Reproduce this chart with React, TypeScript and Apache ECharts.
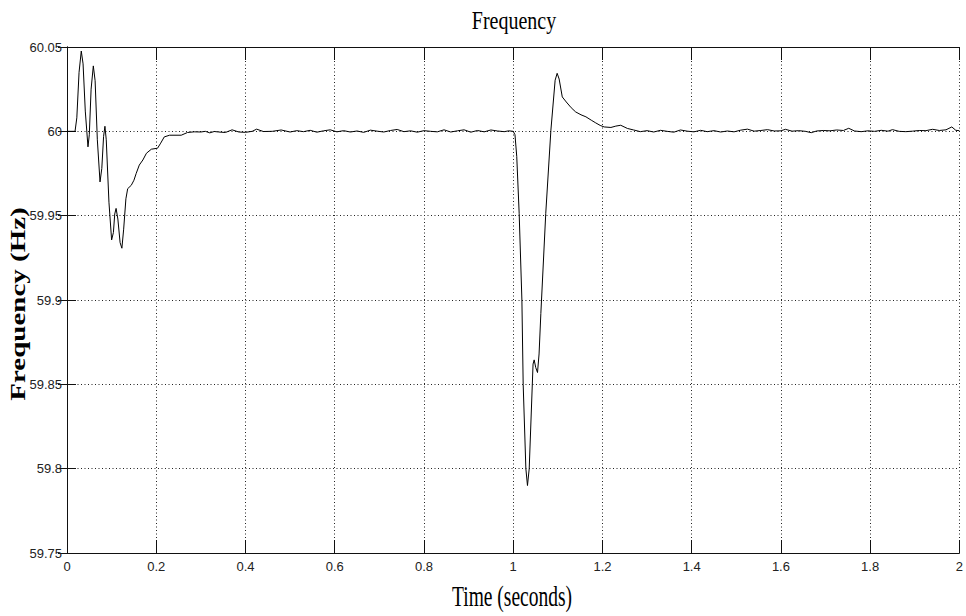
import React, { useEffect, useRef } from "react";
import * as echarts from "echarts";

// Time axis ticks (seconds) and frequency ticks (Hz)
const xTicks = [0, 0.2, 0.4, 0.6, 0.8, 1, 1.2, 1.4, 1.6, 1.8, 2];
const yTicks = [59.75, 59.8, 59.85, 59.9, 59.95, 60, 60.05];

// [time (s), frequency (Hz)]
const startTransient: [number, number][] = [
  [0, 60.0], [0.018, 60.0], [0.022, 60.008], [0.027, 60.035], [0.032, 60.0476],
  [0.036, 60.04], [0.041, 60.012], [0.047, 59.9908], [0.05, 59.998], [0.054, 60.025],
  [0.059, 60.0388], [0.063, 60.03], [0.068, 59.995], [0.074, 59.97], [0.078, 59.978],
  [0.082, 59.997], [0.085, 60.003], [0.088, 59.995], [0.094, 59.958], [0.1, 59.9356],
  [0.104, 59.94], [0.107, 59.951], [0.11, 59.9543], [0.114, 59.948], [0.119, 59.934],
  [0.123, 59.9307], [0.127, 59.942], [0.132, 59.96], [0.136, 59.966], [0.144, 59.968],
  [0.15, 59.971], [0.155, 59.975], [0.162, 59.98], [0.17, 59.983], [0.178, 59.987],
  [0.189, 59.9894], [0.203, 59.99], [0.21, 59.993], [0.218, 59.9967], [0.23, 59.9977],
  [0.256, 59.9977], [0.27, 59.9993], [0.285, 59.9997],
];

const plateauOne: [number, number][] = [
  [0.3, 59.9996], [0.31, 60.0], [0.32, 59.9991], [0.33, 59.9999], [0.34, 59.9996],
  [0.355, 59.9993], [0.37, 60.0009], [0.385, 59.9996], [0.4, 59.9994], [0.415, 60.0],
  [0.425, 60.0013], [0.44, 59.9999], [0.46, 60.0], [0.48, 60.0008], [0.5, 59.9996],
  [0.515, 60.0004], [0.53, 59.9998], [0.545, 60.0006], [0.56, 59.9995], [0.575, 60.0003],
  [0.59, 60.0009], [0.605, 59.9997], [0.62, 60.0004], [0.635, 59.9996], [0.65, 60.0002],
  [0.665, 59.9994], [0.68, 60.0007], [0.695, 60.0001], [0.71, 59.9996], [0.725, 60.0005],
  [0.74, 60.0011], [0.755, 59.9998], [0.77, 60.0003], [0.785, 59.9995], [0.8, 60.0004],
  [0.815, 60.0], [0.83, 59.9997], [0.845, 60.0009], [0.86, 59.9996], [0.875, 60.0003],
  [0.89, 60.0009], [0.905, 59.9995], [0.92, 60.0005], [0.935, 59.9997], [0.95, 60.0008],
  [0.965, 60.0002], [0.98, 59.9998], [0.99, 60.0003],
];

const faultDip: [number, number][] = [
  [1.0, 60.0], [1.004, 59.998], [1.008, 59.985], [1.0134, 59.9514], [1.0195, 59.9],
  [1.0224, 59.85], [1.0284, 59.8], [1.032, 59.79], [1.0359, 59.8], [1.0405, 59.833],
  [1.0445, 59.862], [1.047, 59.8645], [1.0505, 59.86], [1.0545, 59.857], [1.058, 59.868],
  [1.062, 59.892], [1.073, 59.9514], [1.0845, 60.0007], [1.094, 60.0303], [1.0985, 60.0344],
  [1.103, 60.031], [1.11, 60.0204], [1.119, 60.0174], [1.13, 60.014], [1.14, 60.0115],
  [1.152, 60.0098], [1.163, 60.0086], [1.175, 60.0066], [1.185, 60.005], [1.195, 60.0035],
  [1.204, 60.0026], [1.219, 60.0023], [1.23, 60.0031], [1.241, 60.0036], [1.256, 60.0017],
];

const plateauTwo: [number, number][] = [
  [1.27, 60.0008], [1.285, 59.9998], [1.3, 60.0004], [1.315, 59.9996], [1.33, 60.0006],
  [1.345, 60.0], [1.36, 59.9995], [1.375, 60.0008], [1.39, 60.0001], [1.405, 59.9997],
  [1.42, 60.0006], [1.435, 59.9998], [1.45, 60.0004], [1.465, 59.9996], [1.48, 60.0002],
  [1.495, 59.9997], [1.51, 60.0007], [1.525, 60.0013], [1.54, 60.0001], [1.555, 60.0005],
  [1.57, 60.001], [1.585, 60.0002], [1.6, 60.0003], [1.61, 60.0012], [1.625, 60.0001],
  [1.64, 60.0004], [1.655, 60.0], [1.668, 59.9992], [1.68, 60.0002], [1.695, 60.0005],
  [1.71, 60.0003], [1.725, 60.0008], [1.74, 60.0005], [1.752, 60.0018], [1.765, 60.0002],
  [1.78, 59.9998], [1.795, 60.0003], [1.81, 60.0], [1.825, 60.0006], [1.84, 60.0001],
  [1.85, 60.001], [1.865, 60.0], [1.88, 59.9998], [1.895, 60.0001], [1.91, 60.0005],
  [1.925, 60.0004], [1.94, 60.0012], [1.955, 60.0005], [1.97, 60.0009], [1.983, 60.0026],
  [1.992, 60.0006], [2.0, 60.0004],
];

const titleText = "Frequency";
const xName = "Time (seconds)";
const yName = "Frequency (Hz)";

const labelFont = "'Liberation Sans', Arial, sans-serif";
const serif = "'Liberation Serif', 'DejaVu Serif', serif";

const fmt = (v: number) => String(parseFloat(v.toFixed(2)));

export default function App() {
  const ref = useRef<HTMLDivElement>(null);
  useEffect(() => {
    if (!ref.current) return;
    const chart = echarts.init(ref.current, undefined, { renderer: "svg" });
    const data = [...startTransient, ...plateauOne, ...faultDip, ...plateauTwo];
    const xMin = xTicks[0];
    const xMax = xTicks[xTicks.length - 1];
    const yMin = yTicks[0];
    const yMax = yTicks[yTicks.length - 1];
    const axisLine = { show: true, lineStyle: { color: "#111", width: 1 } };
    const grid = { type: [1, 2.5], color: "#222", width: 1 };
    chart.setOption({
      animation: false,
      backgroundColor: "#fff",
      grid: { left: 67, right: 5, top: 47, bottom: 63, containLabel: false },
      xAxis: [
        {
          type: "value", min: xMin, max: xMax, interval: 0.2, position: "bottom",
          axisLine, axisTick: { show: true, inside: true, length: 13, lineStyle: { color: "#111" } },
          axisLabel: { show: true, margin: 7, fontSize: 13, fontFamily: labelFont, color: "#222", formatter: fmt, showMinLabel: true, showMaxLabel: true },
          splitLine: { show: true, lineStyle: grid },
        },
        {
          type: "value", min: xMin, max: xMax, interval: 0.2, position: "top",
          axisLine, axisTick: { show: true, inside: true, length: 13, lineStyle: { color: "#111" } },
          axisLabel: { show: false }, splitLine: { show: false },
        },
      ],
      yAxis: [
        {
          type: "value", min: yMin, max: yMax, interval: 0.05, position: "left",
          axisLine, axisTick: { show: true, inside: true, length: 9, lineStyle: { color: "#111" } },
          axisLabel: { show: true, margin: 5, fontSize: 13, fontFamily: labelFont, color: "#222", formatter: fmt, showMinLabel: true, showMaxLabel: true },
          splitLine: { show: true, lineStyle: grid },
        },
        {
          type: "value", min: yMin, max: yMax, interval: 0.05, position: "right",
          axisLine, axisTick: { show: true, inside: true, length: 9, lineStyle: { color: "#111" } },
          axisLabel: { show: false }, splitLine: { show: false },
        },
      ],
      series: [
        {
          type: "line", xAxisIndex: 0, yAxisIndex: 0, data, showSymbol: false, symbol: "none",
          lineStyle: { color: "#000", width: 1 }, smooth: false,
        },
      ],
      graphic: [
        {
          type: "text", x: 514, y: 21, scaleY: 1.27,
          style: { text: titleText, fontSize: 20, fontFamily: serif, fill: "#000", align: "center", verticalAlign: "middle", textAlign: "center", textVerticalAlign: "middle" },
        },
        {
          type: "text", x: 512, y: 596, scaleY: 1.5,
          style: { text: xName, fontSize: 19.5, fontFamily: serif, fill: "#000", align: "center", verticalAlign: "middle", textAlign: "center", textVerticalAlign: "middle" },
        },
        {
          type: "text", x: 18, y: 304, rotation: Math.PI / 2, scaleX: 1.45,
          style: { text: yName, fontSize: 20, fontWeight: "bold", fontFamily: serif, fill: "#000", align: "center", verticalAlign: "middle", textAlign: "center", textVerticalAlign: "middle" },
        },
      ],
    });
    return () => chart.dispose();
  }, []);
  return <div ref={ref} style={{ position: "fixed", left: 0, top: 0, width: 966, height: 616 }} />;
}
